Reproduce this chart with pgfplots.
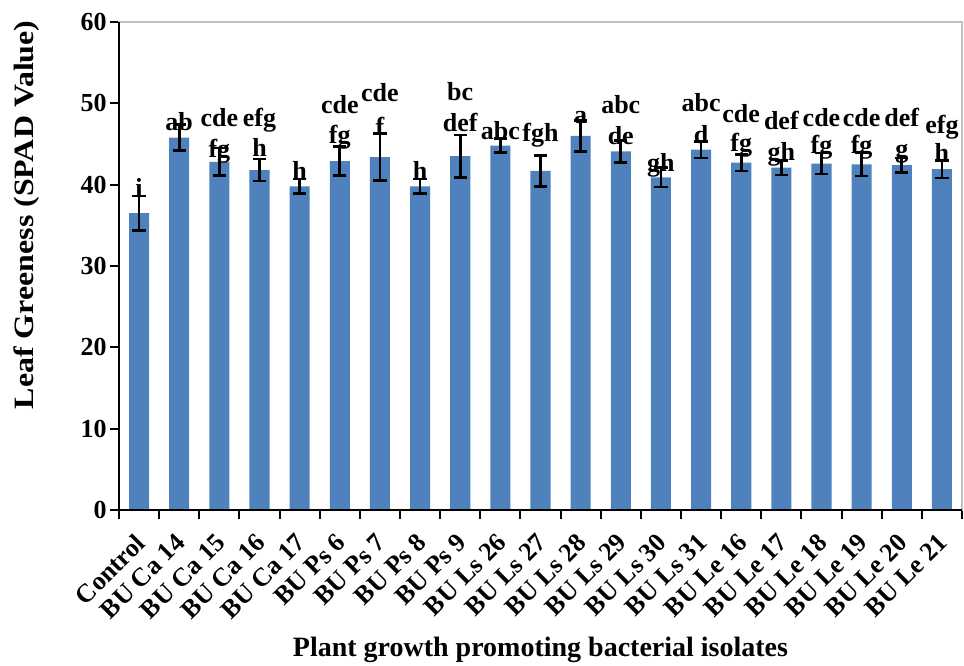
\documentclass[border=0pt]{standalone}
\usepackage{graphicx}
\usepackage{pgfplots}
\usepackage{pgfplotstable}
\pgfplotsset{compat=1.18}
\usepackage{fontspec}
\setmainfont{Liberation Serif}
\definecolor{barblue}{RGB}{79,129,189}

% x = isolate, y = SPAD mean, e = error,
% lo/loy = lower letter line and its baseline, up/upy = upper line
\pgfplotstableread{
x y e lo loy up upy
0 36.5 2.1 i 38.5 {} 38.5
1 45.8 1.6 ab 46.6 {} 46.6
2 42.8 1.7 fg 43.4 cde 47.1
3 41.8 1.35 h 43.5 efg 47.1
4 39.8 0.9 h 40.6 {} 40.6
5 42.9 1.8 fg 45.1 cde 48.8
6 43.4 2.9 f 46.0 cde 50.2
7 39.8 0.9 h 40.6 {} 40.6
8 43.5 2.6 def 46.5 bc 50.4
9 44.8 0.85 abc 45.6 {} 45.6
10 41.7 1.9 fgh 45.3 {} 45.3
11 46.0 1.9 a 47.5 {} 47.5
12 44.1 1.35 de 44.9 abc 48.7
13 40.9 1.2 gh 41.6 {} 41.6
14 44.3 1.0 d 45.1 abc 49.0
15 42.7 1.0 fg 44.1 cde 47.6
16 42.1 0.9 gh 43.0 def 46.8
17 42.6 1.3 fg 43.8 cde 47.1
18 42.5 1.45 fg 43.8 cde 47.1
19 42.4 0.9 g 43.4 def 47.1
20 41.9 1.1 h 42.8 efg 46.3
}\spad

\begin{document}
\begin{tikzpicture}
\path[use as bounding box] (-59.5pt,-77.5pt) rectangle (422.5pt,255pt);
\begin{axis}[
  at={(0,0)}, anchor=south west,
  scale only axis, width=421.5pt, height=244pt,
  xmin=-0.5, xmax=20.5, ymin=0, ymax=60,
  ytick={0,10,...,60},
  xtick={-0.5,0.5,...,20.5},
  x tick label as interval,
  xticklabels={Control, BU Ca 14, BU Ca 15, BU Ca 16, BU Ca 17, BU Ps 6, BU Ps 7, BU Ps 8, BU Ps 9,
    BU Ls 26, BU Ls 27, BU Ls 28, BU Ls 29, BU Ls 30, BU Ls 31,
    BU Le 16, BU Le 17, BU Le 18, BU Le 19, BU Le 20, BU Le 21},
  tick pos=left, tick align=outside,
  major tick length=4.5pt,
  tick style={black, line width=1pt},
  axis line style={draw=black!25, line width=0.6pt},
  /pgf/number format/assume math mode=true,
  ticklabel style={font=\bfseries\fontsize{13}{15}\selectfont},
  yticklabel style={inner sep=1.5pt},
  xticklabel shift=5pt,
  xticklabel style={xshift=-2.5pt, rotate=45, anchor=north east, inner sep=1pt},
  xlabel={Plant growth promoting bacterial isolates},
  ylabel={\scalebox{1.14}[1]{Leaf Greeness (SPAD Value)}},
  label style={font=\bfseries\fontsize{14}{16}\selectfont},
  xlabel style={at={(axis description cs:0.5,-0.287)}, anchor=center},
  ylabel style={at={(axis description cs:-0.11,0.605)}, anchor=center},
  after end axis/.code={\draw[black, line width=1.2pt] (rel axis cs:0,1) -- (rel axis cs:0,0) -- (rel axis cs:1,0);},
]
\addplot[ybar, bar width=0.5, fill=barblue, draw=none,
  error bars/.cd, y dir=both, y explicit,
  error bar style={black, line width=1.3pt},
  error mark options={black, rotate=90, mark size=3.3pt, line width=1.3pt}]
  table[x=x, y=y, y error=e] {\spad};
\addplot[draw=none, mark=none, nodes near coords, point meta=explicit symbolic,
  every node near coord/.append style={font=\bfseries\fontsize{13}{15}\selectfont,
    anchor=base, inner sep=0pt}]
  table[x=x, y=loy, meta=lo] {\spad};
\addplot[draw=none, mark=none, nodes near coords, point meta=explicit symbolic,
  every node near coord/.append style={font=\bfseries\fontsize{13}{15}\selectfont,
    anchor=base, inner sep=0pt}]
  table[x=x, y=upy, meta=up] {\spad};
\end{axis}
\end{tikzpicture}
\end{document}
